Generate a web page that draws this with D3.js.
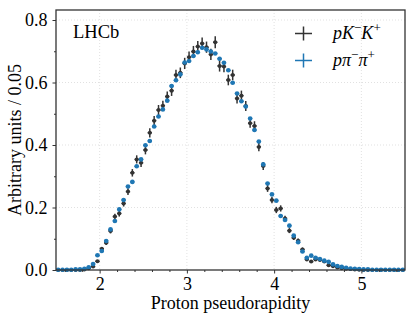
<!DOCTYPE html>
<html>
<head>
<meta charset="utf-8">
<script src="https://cdn.jsdelivr.net/npm/d3@7"></script>
<style>
  body { margin: 0; background: #fff; }
  svg text { font-family: "Liberation Serif", "DejaVu Serif", serif; fill: #000; }
</style>
</head>
<body>
<svg id="chart" width="416" height="320"></svg>
<script>
// bin centres: 1.525 ... 5.475, width 0.05
const binLow = 1.5;
const binWidth = 0.05;

// pK-K+ (black, with error bars)
const kkValues = [
  0, 0, 0, 0, 0, 0, 0.002, 0.006, 0.011, 0.028,
  0.068, 0.087, 0.125, 0.171, 0.181, 0.213, 0.251, 0.311, 0.354, 0.343,
  0.384, 0.439, 0.478, 0.512, 0.526, 0.555, 0.574, 0.624, 0.631, 0.661,
  0.681, 0.699, 0.715, 0.725, 0.713, 0.690, 0.729, 0.653, 0.651, 0.608,
  0.624, 0.549, 0.558, 0.525, 0.470, 0.461, 0.394, 0.333, 0.261, 0.224,
  0.192, 0.197, 0.165, 0.126, 0.103, 0.094, 0.066, 0.034, 0.027, 0.034,
  0.032, 0.027, 0.015, 0.012, 0.008, 0.006, 0.004, 0.003, 0.002, 0.001,
  0, 0, 0, 0, 0, 0, 0, 0, 0, 0
];
const kkErrors = [
  0, 0, 0, 0, 0, 0, 0.001, 0.002, 0.003, 0.004,
  0.006, 0.007, 0.008, 0.009, 0.010, 0.010, 0.011, 0.012, 0.013, 0.013,
  0.014, 0.015, 0.015, 0.016, 0.016, 0.016, 0.017, 0.017, 0.017, 0.018,
  0.018, 0.018, 0.018, 0.019, 0.018, 0.018, 0.019, 0.018, 0.018, 0.017,
  0.017, 0.016, 0.016, 0.016, 0.015, 0.015, 0.014, 0.013, 0.011, 0.010,
  0.010, 0.010, 0.009, 0.008, 0.007, 0.007, 0.006, 0.004, 0.004, 0.004,
  0.004, 0.004, 0.003, 0.003, 0.002, 0.002, 0.002, 0.001, 0.001, 0.001,
  0, 0, 0, 0, 0, 0, 0, 0, 0, 0
];

// p pi- pi+ (blue)
const pipiValues = [
  0.001, 0.001, 0.001, 0.001, 0.002, 0.002, 0.004, 0.009, 0.019, 0.047,
  0.061, 0.093, 0.130, 0.157, 0.194, 0.224, 0.267, 0.282, 0.332, 0.354,
  0.399, 0.413, 0.459, 0.491, 0.514, 0.542, 0.589, 0.607, 0.626, 0.664,
  0.669, 0.685, 0.697, 0.711, 0.706, 0.699, 0.693, 0.676, 0.663, 0.639,
  0.599, 0.565, 0.540, 0.523, 0.485, 0.448, 0.411, 0.338, 0.277, 0.242,
  0.222, 0.173, 0.160, 0.142, 0.110, 0.089, 0.059, 0.039, 0.046, 0.039,
  0.035, 0.030, 0.026, 0.018, 0.013, 0.010, 0.007, 0.005, 0.004, 0.003,
  0.002, 0.002, 0.001, 0.001, 0.001, 0.001, 0.001, 0.001, 0.001, 0.001
];
const pipiErrors = [
  0, 0, 0, 0, 0, 0, 0, 0.001, 0.001, 0.001,
  0.002, 0.002, 0.002, 0.002, 0.003, 0.003, 0.003, 0.003, 0.003, 0.003,
  0.003, 0.003, 0.004, 0.004, 0.004, 0.004, 0.004, 0.004, 0.004, 0.004,
  0.004, 0.004, 0.004, 0.004, 0.004, 0.004, 0.004, 0.004, 0.004, 0.004,
  0.004, 0.004, 0.004, 0.004, 0.004, 0.003, 0.003, 0.003, 0.003, 0.003,
  0.003, 0.003, 0.002, 0.002, 0.002, 0.002, 0.002, 0.001, 0.001, 0.001,
  0.001, 0.001, 0.001, 0.001, 0, 0, 0, 0, 0, 0,
  0, 0, 0, 0, 0, 0, 0, 0, 0, 0
];

const xMajorTicks = [2, 3, 4, 5];
const yMajorTicks = [0.0, 0.2, 0.4, 0.6, 0.8];

const legendLabels = [
  {base: ['p', 'K', 'K'], sups: ['\u2212', '+'], color: '#333333'},
  {base: ['p', '\u03c0', '\u03c0'], sups: ['\u2212', '+'], color: '#1f77b4'}
];

const svg = d3.select('#chart');
const plotLeft = 56, plotRight = 405, plotTop = 10, plotBottom = 270;

const x = d3.scaleLinear().domain([1.5, 5.5]).range([plotLeft, plotRight]);
const y = d3.scaleLinear().domain([0, 0.832]).range([plotBottom, plotTop]);

// grid
const grid = svg.append('g');
grid.selectAll('.gx').data(xMajorTicks).enter().append('line')
  .attr('x1', (d) => x(d)).attr('x2', (d) => x(d))
  .attr('y1', plotTop).attr('y2', plotBottom)
  .attr('stroke', '#d9d9d9').attr('stroke-width', 0.8).attr('stroke-dasharray', '1,2');
grid.selectAll('.gy').data(yMajorTicks.filter((d) => d > 0)).enter().append('line')
  .attr('y1', (d) => y(d)).attr('y2', (d) => y(d))
  .attr('x1', plotLeft).attr('x2', plotRight)
  .attr('stroke', '#d9d9d9').attr('stroke-width', 0.8).attr('stroke-dasharray', '1,2');

// build bins
const makeBins = (vals, errs) => vals.map((v, i) => ({
  c: binLow + binWidth * (i + 0.5), v: v, e: errs[i]
}));
const kkBins = makeBins(kkValues, kkErrors);
const pipiBins = makeBins(pipiValues, pipiErrors);

// draw an errorbar series
const drawSeries = (bins, color, r, lw) => {
  const g = svg.append('g');
  g.selectAll('.ex').data(bins).enter().append('line')
    .attr('x1', (d) => x(d.c - binWidth / 2)).attr('x2', (d) => x(d.c + binWidth / 2))
    .attr('y1', (d) => y(d.v)).attr('y2', (d) => y(d.v))
    .attr('stroke', color).attr('stroke-width', lw);
  g.selectAll('.ey').data(bins).enter().append('line')
    .attr('x1', (d) => x(d.c)).attr('x2', (d) => x(d.c))
    .attr('y1', (d) => y(d.v - d.e)).attr('y2', (d) => y(d.v + d.e))
    .attr('stroke', color).attr('stroke-width', lw);
  g.selectAll('circle').data(bins).enter().append('circle')
    .attr('cx', (d) => x(d.c)).attr('cy', (d) => y(d.v))
    .attr('r', r).attr('fill', color);
};
drawSeries(kkBins, '#333333', 2.0, 1.5);
drawSeries(pipiBins, '#1f77b4', 2.3, 1.5);

// axes
const fontSize = 18;
const xAxis = svg.append('g').attr('transform', 'translate(0,' + plotBottom + ')')
  .call(d3.axisBottom(x).tickValues(xMajorTicks).tickFormat(d3.format('d')).tickSize(3.5).tickSizeOuter(0).tickPadding(4));
const xMinor = svg.append('g').attr('transform', 'translate(0,' + plotBottom + ')')
  .call(d3.axisBottom(x).tickValues(d3.range(16, 55, 2).map((d) => d / 10).filter((d) => !xMajorTicks.includes(d)))
    .tickFormat('').tickSize(2).tickSizeOuter(0));
const yAxis = svg.append('g').attr('transform', 'translate(' + plotLeft + ',0)')
  .call(d3.axisLeft(y).tickValues(yMajorTicks).tickFormat(d3.format('.1f')).tickSize(3.5).tickSizeOuter(0).tickPadding(5));
const yMinor = svg.append('g').attr('transform', 'translate(' + plotLeft + ',0)')
  .call(d3.axisLeft(y).tickValues([0.1, 0.3, 0.5, 0.7]).tickFormat('').tickSize(2).tickSizeOuter(0));

[xAxis, xMinor, yAxis, yMinor].forEach((a) => {
  a.select('.domain').remove();
  a.selectAll('line').attr('stroke', '#333').attr('stroke-width', 1);
  a.selectAll('text').attr('font-size', fontSize).attr('font-family', '"Liberation Serif", serif').attr('fill', '#000');
});

// frame
svg.append('rect')
  .attr('x', plotLeft).attr('y', plotTop).attr('width', plotRight - plotLeft).attr('height', plotBottom - plotTop)
  .attr('fill', 'none').attr('stroke', '#333').attr('stroke-width', 1.3);

// labels
svg.append('text').attr('x', (plotLeft + plotRight) / 2).attr('y', 309)
  .attr('text-anchor', 'middle').attr('font-size', fontSize).text('Proton pseudorapidity');
svg.append('text').attr('transform', 'translate(20.5,' + (plotTop + plotBottom) / 2 + ') rotate(-90)')
  .attr('text-anchor', 'middle').attr('font-size', fontSize).text('Arbitrary units / 0.05');
svg.append('text').attr('x', 73).attr('y', 38).attr('font-size', 18.5).text('LHCb');

// legend
const legend = svg.append('g');
legendLabels.forEach((item, i) => {
  const cy = 33.5 + i * 27;
  legend.append('line').attr('x1', 295).attr('x2', 312).attr('y1', cy).attr('y2', cy)
    .attr('stroke', item.color).attr('stroke-width', 1.5);
  legend.append('line').attr('x1', 303.5).attr('x2', 303.5).attr('y1', cy - 7).attr('y2', cy + 7)
    .attr('stroke', item.color).attr('stroke-width', 1.5);
  const t = legend.append('text').attr('x', 333).attr('y', cy + 5)
    .attr('font-size', 18).attr('font-style', 'italic');
  t.append('tspan').text(item.base[0]);
  t.append('tspan').text(item.base[1]);
  t.append('tspan').attr('dy', -7).attr('font-size', 13).attr('font-style', 'normal').text(item.sups[0]);
  t.append('tspan').attr('dy', 7).text(item.base[2]);
  t.append('tspan').attr('dy', -7).attr('font-size', 13).attr('font-style', 'normal').text(item.sups[1]);
});
</script>
</body>
</html>
